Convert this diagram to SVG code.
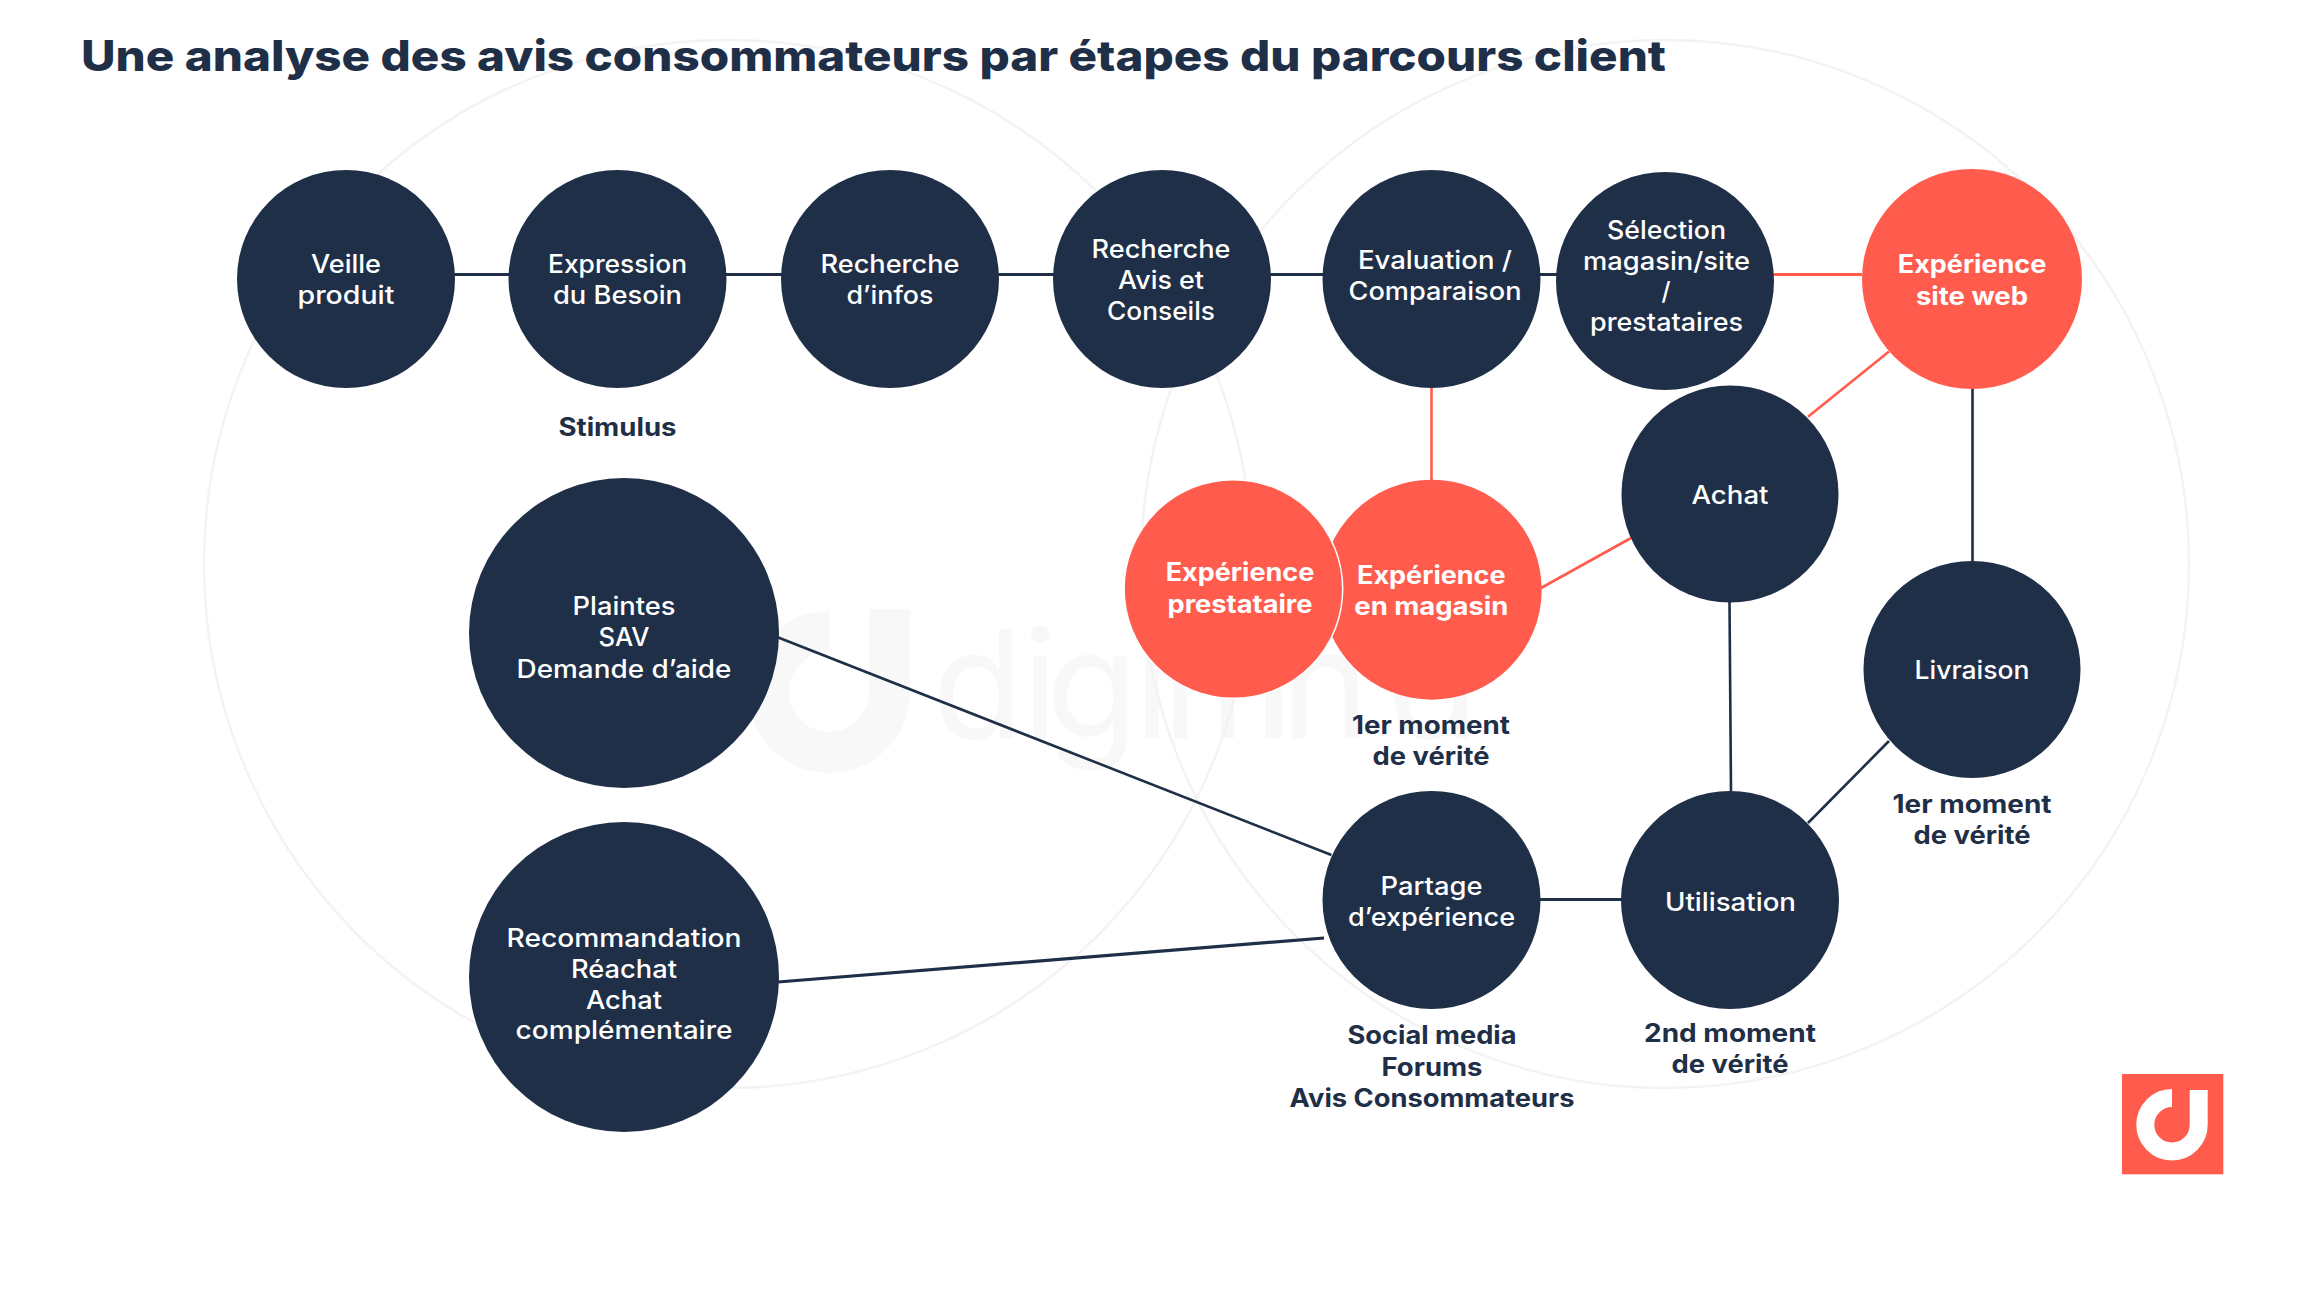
<svg xmlns="http://www.w3.org/2000/svg" width="2297" height="1292" viewBox="0 0 2297 1292">
<style>
text{font-family:Inter,"Liberation Sans",sans-serif;text-anchor:middle;font-size:25px;letter-spacing:0}
.n{fill:#1f2f47}.r{fill:#ff5c4d}
.w{fill:#fff;font-weight:500;transform:translateY(1.2px)}
.wb{fill:#fff;font-weight:700;transform:translateY(1.2px)}
.l{fill:#1f2f47;font-weight:700;transform:translateY(1.2px)}
.cn{stroke:#1f2f47;stroke-width:2.6;fill:none}
.cr{stroke:#ff5c4d;stroke-width:2.6;fill:none}
.bg{fill:none;stroke:#f3f3f3;stroke-width:2.5}
.wm{fill:none;stroke:#f8f8f8;stroke-width:41}
</style>
<rect width="2297" height="1292" fill="#fff"/>
<g id="watermark">
<path class="wm" d="M829 631.5A60.5 60.5 0 1 0 889.5 692V609"/>
<text x="932 1022 1046 1134 1162 1254 1281 1387" y="738" style="text-anchor:start;font-size:150px;font-weight:400;fill:#f8f8f8">digimind</text>
</g>
<g id="background">
<circle class="bg" cx="728" cy="564" r="524"/>
<circle class="bg" cx="1665" cy="564" r="524"/>
</g>
<text id="title" x="81" y="70.5" textLength="1585" lengthAdjust="spacingAndGlyphs" style="text-anchor:start;font-size:42px;font-weight:800;fill:#1f2f47">Une analyse des avis consommateurs par étapes du parcours client</text>
<g id="connectors">
<path class="cn" style="stroke-width:3.2" d="M346 274.500H1664"/>
<path class="cr" style="stroke-width:3.2" d="M1773 274.500H1862"/>
<path class="cr" d="M1431.500 388V480"/>
<path class="cr" d="M1808 416.700L1889 351.500"/>
<path class="cr" d="M1541 588L1631 538"/>
<path class="cn" d="M1972.500 388V562"/>
<path class="cn" d="M1729.500 602L1731 791"/>
<path class="cn" d="M1808 823L1889 741"/>
<path class="cn" style="stroke-width:3.200" d="M1540 899.500H1622"/>
<path class="cn" d="M777 637L1331.400 855"/>
<path class="cn" style="stroke-width:3.200" d="M778 982L1324 938"/>
</g>
<g id="veille"><circle class="n" cx="346" cy="279" r="109"/><text class="w" x="346" y="272" textLength="70" lengthAdjust="spacingAndGlyphs">Veille</text><text class="w" x="346" y="303" textLength="97" lengthAdjust="spacingAndGlyphs">produit</text></g>
<g id="expression"><circle class="n" cx="617.500" cy="279" r="109"/><text class="w" x="617.500" y="272" textLength="139" lengthAdjust="spacingAndGlyphs">Expression</text><text class="w" x="617.500" y="303" textLength="129" lengthAdjust="spacingAndGlyphs">du Besoin</text></g>
<g id="recherche-infos"><circle class="n" cx="890" cy="279" r="109"/><text class="w" x="890" y="272" textLength="139" lengthAdjust="spacingAndGlyphs">Recherche</text><text class="w" x="890" y="303" textLength="87" lengthAdjust="spacingAndGlyphs">d’infos</text></g>
<g id="recherche-avis"><circle class="n" cx="1162" cy="279" r="109"/><text class="w" x="1161" y="257" textLength="139" lengthAdjust="spacingAndGlyphs">Recherche</text><text class="w" x="1161" y="288" textLength="86" lengthAdjust="spacingAndGlyphs">Avis et</text><text class="w" x="1161" y="319" textLength="108" lengthAdjust="spacingAndGlyphs">Conseils</text></g>
<g id="evaluation"><circle class="n" cx="1431.500" cy="279" r="109"/><text class="w" x="1435" y="267.500" textLength="154" lengthAdjust="spacingAndGlyphs">Evaluation /</text><text class="w" x="1435" y="299" textLength="173" lengthAdjust="spacingAndGlyphs">Comparaison</text></g>
<g id="selection"><circle class="n" cx="1665" cy="281" r="109"/><text class="w" x="1666.500" y="237.500" textLength="119" lengthAdjust="spacingAndGlyphs">Sélection</text><text class="w" x="1666.500" y="268.600" textLength="167" lengthAdjust="spacingAndGlyphs">magasin/site</text><text class="w" x="1666" y="299.300" textLength="9" lengthAdjust="spacingAndGlyphs">/</text><text class="w" x="1666.500" y="330" textLength="153" lengthAdjust="spacingAndGlyphs">prestataires</text></g>
<g id="site-web"><circle class="r" cx="1972" cy="279" r="110"/><text class="wb" x="1972" y="272" textLength="148.500" lengthAdjust="spacingAndGlyphs">Expérience</text><text class="wb" x="1972" y="303.400" textLength="112" lengthAdjust="spacingAndGlyphs">site web</text></g>
<g id="achat"><circle class="n" cx="1730" cy="494" r="108.500"/><text class="w" x="1730" y="502.400" textLength="77" lengthAdjust="spacingAndGlyphs">Achat</text></g>
<g id="magasin"><circle class="r" cx="1431.700" cy="589.700" r="110"/><text class="wb" x="1431.300" y="582.700" textLength="148.500" lengthAdjust="spacingAndGlyphs">Expérience</text><text class="wb" x="1431.300" y="614" textLength="154" lengthAdjust="spacingAndGlyphs">en magasin</text></g>
<g id="prestataire"><circle class="r" cx="1233.400" cy="589" r="109.300" stroke="#fff" stroke-width="1.500"/><text class="wb" x="1240" y="580" textLength="148.700" lengthAdjust="spacingAndGlyphs">Expérience</text><text class="wb" x="1240" y="611.700" textLength="145" lengthAdjust="spacingAndGlyphs">prestataire</text></g>
<g id="livraison"><circle class="n" cx="1972" cy="669.500" r="108.500"/><text class="w" x="1972" y="678" textLength="115" lengthAdjust="spacingAndGlyphs">Livraison</text></g>
<g id="utilisation"><circle class="n" cx="1730" cy="900" r="109"/><text class="w" x="1730.500" y="909.400" textLength="131" lengthAdjust="spacingAndGlyphs">Utilisation</text></g>
<g id="partage"><circle class="n" cx="1431.500" cy="900" r="109"/><text class="w" x="1431.600" y="893.600" textLength="102" lengthAdjust="spacingAndGlyphs">Partage</text><text class="w" x="1431.600" y="924.800" textLength="167" lengthAdjust="spacingAndGlyphs">d’expérience</text></g>
<g id="plaintes"><circle class="n" cx="624" cy="633" r="155"/><text class="w" x="624" y="614" textLength="103" lengthAdjust="spacingAndGlyphs">Plaintes</text><text class="w" x="624" y="645" textLength="51" lengthAdjust="spacingAndGlyphs">SAV</text><text class="w" x="624" y="677" textLength="215" lengthAdjust="spacingAndGlyphs">Demande d’aide</text></g>
<g id="recommandation"><circle class="n" cx="624" cy="977" r="155"/><text class="w" x="624" y="945.600" textLength="235" lengthAdjust="spacingAndGlyphs">Recommandation</text><text class="w" x="624" y="976.800" textLength="106" lengthAdjust="spacingAndGlyphs">Réachat</text><text class="w" x="624" y="1008" textLength="76" lengthAdjust="spacingAndGlyphs">Achat</text><text class="w" x="624" y="1038" textLength="217" lengthAdjust="spacingAndGlyphs">complémentaire</text></g>
<g id="labels">
<text class="l" x="617.500" y="435" textLength="118" lengthAdjust="spacingAndGlyphs">Stimulus</text>
<text class="l" x="1431" y="732.700" textLength="158" lengthAdjust="spacingAndGlyphs">1er moment</text><text class="l" x="1431" y="763.500" textLength="117" lengthAdjust="spacingAndGlyphs">de vérité</text>
<text class="l" x="1972" y="811.700" textLength="159" lengthAdjust="spacingAndGlyphs">1er moment</text><text class="l" x="1972" y="843" textLength="117" lengthAdjust="spacingAndGlyphs">de vérité</text>
<text class="l" x="1432" y="1043" textLength="169" lengthAdjust="spacingAndGlyphs">Social media</text><text class="l" x="1432" y="1075" textLength="101" lengthAdjust="spacingAndGlyphs">Forums</text><text class="l" x="1432" y="1106" textLength="285" lengthAdjust="spacingAndGlyphs">Avis Consommateurs</text>
<text class="l" x="1730" y="1041" textLength="172" lengthAdjust="spacingAndGlyphs">2nd moment</text><text class="l" x="1730" y="1072" textLength="117" lengthAdjust="spacingAndGlyphs">de vérité</text>
</g>
<g id="logo"><rect class="r" x="2122" y="1074" width="101.300" height="100.300"/><path fill="none" stroke="#fff" stroke-width="18" d="M2172 1098A26.700 26.700 0 1 0 2198.700 1124.700V1090"/></g>
</svg>
